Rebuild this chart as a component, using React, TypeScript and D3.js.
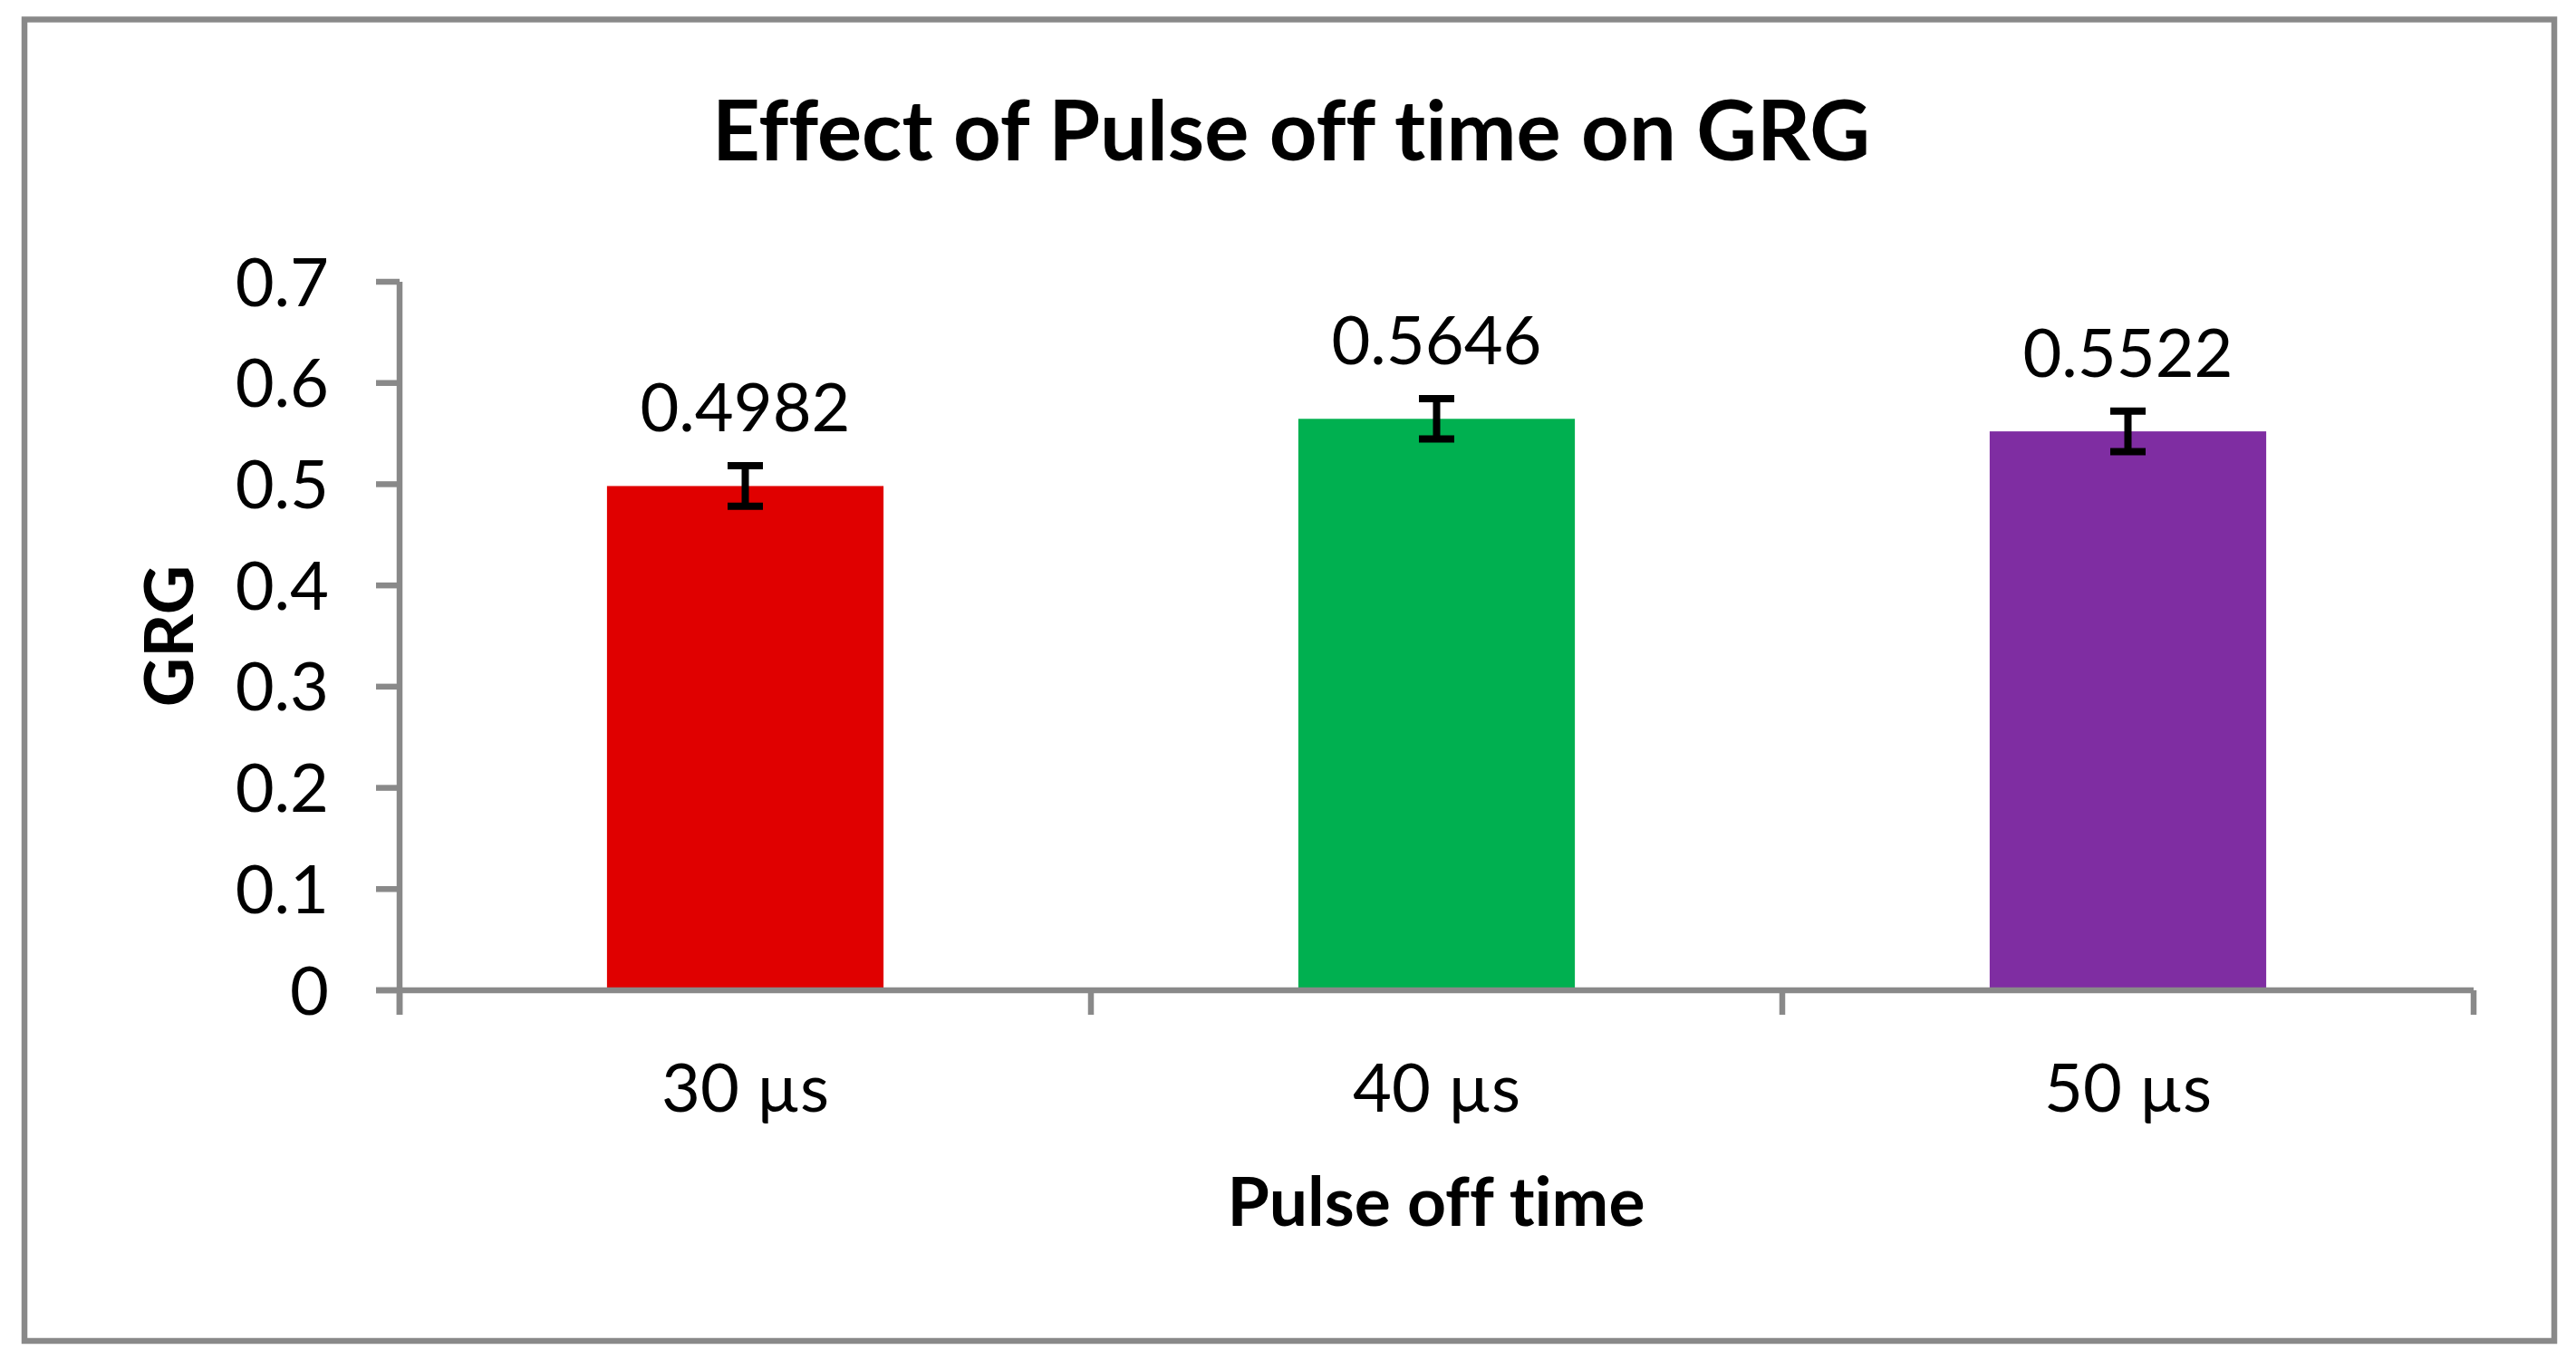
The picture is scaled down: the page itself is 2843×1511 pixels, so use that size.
import React from "react";
import * as d3 from "d3";

const categories = ["30 µs", "40 µs", "50 µs"];
const grgValues = [0.4982, 0.5646, 0.5522];
const errorValues = [0.02, 0.02, 0.02];
const barColors = ["#E00000", "#00B050", "#7F2DA2"];
const yTicks = [0, 0.1, 0.2, 0.3, 0.4, 0.5, 0.6, 0.7];

const W = 2843;
const H = 1511;
const FONT = "Lato, 'Open Sans', sans-serif";
const GRAY = "#898989";
const noLig = { fontVariantLigatures: "none" as const };

export default function App() {
  const plotLeft = 441;
  const plotRight = 2730;
  const plotTop = 311;
  const plotBottom = 1093;

  const y = d3.scaleLinear().domain([0, 0.7]).range([plotBottom, plotTop]);
  const x = d3
    .scaleBand<string>()
    .domain(categories)
    .range([plotLeft, plotRight])
    .paddingInner(0.6)
    .paddingOuter(0.3);
  const step = x.step();
  const bw = x.bandwidth();
  const boundaries = d3.range(categories.length + 1).map((i) => plotLeft + i * step);

  return (
    <svg
      width={W}
      height={H}
      viewBox={`0 0 ${W} ${H}`}
      style={{ position: "absolute", left: 0, top: 0, background: "#fff" }}
    >
      <rect x={0} y={0} width={W} height={H} fill="#fff" />
      {/* chart frame */}
      <rect x={27} y={21.5} width={2792} height={1458.5} fill="none" stroke={GRAY} strokeWidth={6.5} />

      {/* title */}
      <text x={1425} y={177} textAnchor="middle" fontFamily={FONT} fontWeight={700} fontSize={92} fill="#000" style={noLig}>
        Effect of Pulse off time on GRG
      </text>

      {/* bars */}
      {categories.map((c, i) => (
        <rect
          key={c}
          x={x(c)}
          y={y(grgValues[i])}
          width={bw}
          height={y(0) - y(grgValues[i])}
          fill={barColors[i]}
        />
      ))}

      {/* y axis */}
      <line x1={plotLeft} x2={plotLeft} y1={plotTop} y2={plotBottom + 27} stroke={GRAY} strokeWidth={6.5} />
      {yTicks.map((t) => (
        <g key={t}>
          <line x1={plotLeft - 26} x2={plotLeft} y1={y(t)} y2={y(t)} stroke={GRAY} strokeWidth={6.5} />
          <text
            x={363}
            y={y(t)}
            dy="0.36em"
            textAnchor="end"
            fontFamily={FONT}
            fontSize={74}
            fill="#000"
          >
            {String(+t.toFixed(1))}
          </text>
        </g>
      ))}

      {/* x axis */}
      <line x1={plotLeft - 26} x2={plotRight} y1={plotBottom} y2={plotBottom} stroke={GRAY} strokeWidth={6.5} />
      {boundaries.map((bx, i) => (
        <line key={i} x1={bx} x2={bx} y1={plotBottom} y2={plotBottom + 27} stroke={GRAY} strokeWidth={6.5} />
      ))}
      {categories.map((c) => (
        <text
          key={c}
          x={(x(c) as number) + bw / 2}
          y={1227}
          textAnchor="middle"
          fontFamily={FONT}
          fontSize={74}
          fill="#000"
        >
          {c}
        </text>
      ))}

      {/* error bars */}
      {categories.map((c, i) => {
        const cx = (x(c) as number) + bw / 2;
        const yHi = y(grgValues[i] + errorValues[i]);
        const yLo = y(grgValues[i] - errorValues[i]);
        return (
          <g key={c} stroke="#000" strokeWidth={8}>
            <line x1={cx} x2={cx} y1={yHi} y2={yLo} />
            <line x1={cx - 19.5} x2={cx + 19.5} y1={yHi} y2={yHi} />
            <line x1={cx - 19.5} x2={cx + 19.5} y1={yLo} y2={yLo} />
          </g>
        );
      })}

      {/* data labels */}
      {categories.map((c, i) => (
        <text
          key={c}
          x={(x(c) as number) + bw / 2}
          y={y(grgValues[i]) - 60}
          textAnchor="middle"
          fontFamily={FONT}
          fontSize={74}
          fill="#000"
        >
          {grgValues[i].toFixed(4)}
        </text>
      ))}

      {/* axis titles */}
      <text x={1585} y={1353} textAnchor="middle" fontFamily={FONT} fontWeight={700} fontSize={75} fill="#000" style={noLig}>
        Pulse off time
      </text>
      <text
        transform={`translate(213, ${(plotTop + plotBottom) / 2}) rotate(-90)`}
        textAnchor="middle"
        fontFamily={FONT}
        fontWeight={700}
        fontSize={75}
        fill="#000"
      >
        GRG
      </text>
    </svg>
  );
}
